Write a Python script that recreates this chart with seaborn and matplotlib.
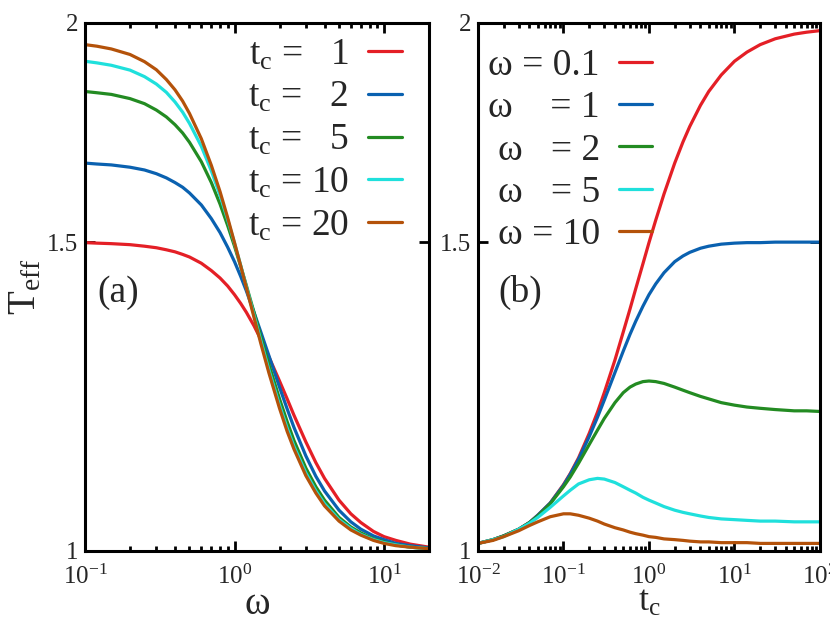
import matplotlib
matplotlib.use('Agg')
import matplotlib.pyplot as plt
import seaborn as sns
from matplotlib.ticker import FixedLocator, FixedFormatter, NullLocator, NullFormatter, LogLocator

# ---------------- panel (a): T_eff vs omega ----------------
omega = [0.1, 0.12, 0.15, 0.2, 0.25, 0.3, 0.35, 0.4, 0.45, 0.5, 0.6, 0.7, 0.8, 0.9, 1.0,
         1.1, 1.2, 1.35, 1.5, 1.7, 2, 2.25, 2.5, 3, 3.5, 4, 5, 6, 7, 8.5, 10, 12, 15, 20]
teff_tc1 = [1.499, 1.498, 1.497, 1.495, 1.492, 1.489, 1.485, 1.481, 1.476, 1.471, 1.459, 1.445,
            1.431, 1.416, 1.400, 1.384, 1.368, 1.344, 1.320, 1.290, 1.250, 1.221, 1.195, 1.154,
            1.123, 1.100, 1.069, 1.050, 1.038, 1.026, 1.019, 1.014, 1.009, 1.005]
teff_tc2 = [1.664, 1.662, 1.660, 1.655, 1.649, 1.641, 1.632, 1.622, 1.612, 1.600, 1.575, 1.547,
            1.519, 1.490, 1.462, 1.434, 1.407, 1.368, 1.333, 1.292, 1.240, 1.205, 1.176, 1.133,
            1.103, 1.082, 1.055, 1.039, 1.029, 1.020, 1.015, 1.010, 1.007, 1.004]
teff_tc5 = [1.828, 1.825, 1.821, 1.811, 1.799, 1.784, 1.768, 1.750, 1.731, 1.710, 1.667, 1.622,
            1.577, 1.533, 1.492, 1.453, 1.417, 1.368, 1.325, 1.277, 1.221, 1.185, 1.156, 1.115,
            1.088, 1.069, 1.045, 1.032, 1.024, 1.016, 1.012, 1.008, 1.005, 1.003]
teff_tc10 = [1.902, 1.898, 1.892, 1.880, 1.864, 1.846, 1.826, 1.803, 1.779, 1.753, 1.701, 1.647,
             1.595, 1.545, 1.498, 1.455, 1.415, 1.363, 1.318, 1.268, 1.211, 1.175, 1.147, 1.108,
             1.082, 1.064, 1.042, 1.030, 1.022, 1.015, 1.011, 1.008, 1.005, 1.003]
teff_tc20 = [1.944, 1.940, 1.933, 1.919, 1.901, 1.881, 1.857, 1.832, 1.805, 1.776, 1.718, 1.659,
             1.603, 1.549, 1.499, 1.454, 1.413, 1.359, 1.313, 1.263, 1.206, 1.170, 1.143, 1.104,
             1.079, 1.061, 1.040, 1.028, 1.021, 1.014, 1.010, 1.007, 1.005, 1.003]
labels_a = [r't$_\mathrm{c}$ =   1', r't$_\mathrm{c}$ =   2', r't$_\mathrm{c}$ =   5',
            r't$_\mathrm{c}$ = 10', r't$_\mathrm{c}$ = 20']

# ---------------- panel (b): T_eff vs t_c ----------------
tc = [0.01, 0.015, 0.02, 0.03, 0.04, 0.05, 0.07, 0.1, 0.12, 0.15, 0.2, 0.25, 0.3, 0.4, 0.5,
      0.6, 0.7, 0.85, 1, 1.2, 1.5, 2, 2.5, 3, 4, 5, 7, 10, 14, 20, 30, 50, 70, 100]
teff_w01 = [1.010, 1.015, 1.020, 1.029, 1.038, 1.048, 1.065, 1.091, 1.107, 1.130, 1.167, 1.200,
            1.231, 1.285, 1.333, 1.374, 1.411, 1.458, 1.499, 1.544, 1.598, 1.664, 1.711, 1.746,
            1.795, 1.828, 1.868, 1.902, 1.925, 1.944, 1.959, 1.971, 1.976, 1.980]
teff_w1 = [1.010, 1.015, 1.020, 1.029, 1.038, 1.048, 1.065, 1.090, 1.106, 1.128, 1.162, 1.192,
           1.219, 1.264, 1.300, 1.329, 1.352, 1.379, 1.400, 1.420, 1.441, 1.462, 1.473, 1.480,
           1.488, 1.492, 1.496, 1.498, 1.499, 1.499, 1.500, 1.500, 1.500, 1.500]
teff_w2 = [1.010, 1.015, 1.020, 1.029, 1.038, 1.047, 1.064, 1.088, 1.102, 1.122, 1.150, 1.172,
           1.190, 1.215, 1.231, 1.240, 1.245, 1.249, 1.250, 1.249, 1.246, 1.240, 1.235, 1.231,
           1.225, 1.221, 1.215, 1.211, 1.208, 1.206, 1.204, 1.202, 1.202, 1.201]
teff_w5 = [1.010, 1.015, 1.019, 1.029, 1.037, 1.045, 1.059, 1.075, 1.083, 1.092, 1.098, 1.100,
           1.099, 1.094, 1.088, 1.083, 1.079, 1.073, 1.069, 1.065, 1.060, 1.055, 1.052, 1.050,
           1.047, 1.045, 1.043, 1.042, 1.041, 1.040, 1.040, 1.039, 1.039, 1.039]
teff_w10 = [1.010, 1.014, 1.019, 1.027, 1.034, 1.039, 1.046, 1.050, 1.050, 1.048, 1.044, 1.040,
            1.036, 1.031, 1.028, 1.025, 1.023, 1.021, 1.019, 1.018, 1.016, 1.015, 1.014, 1.013,
            1.012, 1.012, 1.011, 1.011, 1.011, 1.010, 1.010, 1.010, 1.010, 1.010]
labels_b = ['ω = 0.1', 'ω    = 1', 'ω   = 2', 'ω   = 5', 'ω = 10']

colors = ['#e41f26', '#0a61b0', '#238b22', '#1fe0dc', '#b4520a']

sns.set_style('ticks')
plt.rcParams['font.family'] = 'serif'
plt.rcParams['font.serif'] = ['Liberation Serif', 'Times New Roman', 'DejaVu Serif']
plt.rcParams['mathtext.fontset'] = 'custom'
plt.rcParams['mathtext.rm'] = 'Liberation Serif'
plt.rcParams['mathtext.it'] = 'Liberation Serif:italic'
plt.rcParams['mathtext.bf'] = 'Liberation Serif:bold'

fig = plt.figure(figsize=(8.3, 6.23), dpi=100)
ax1 = fig.add_axes([0.1024, 0.1156, 0.4145, 0.8475])
ax2 = fig.add_axes([0.5759, 0.1156, 0.412, 0.8475])

for vals, c, lab in zip([teff_tc1, teff_tc2, teff_tc5, teff_tc10, teff_tc20], colors, labels_a):
    sns.lineplot(x=omega, y=vals, color=c, label=lab, linewidth=2.3, ax=ax1)

for vals, c, lab in zip([teff_w01, teff_w1, teff_w2, teff_w5, teff_w10], colors, labels_b):
    sns.lineplot(x=tc, y=vals, color=c, label=lab, linewidth=2.3, ax=ax2)

for ax in [ax1, ax2]:
    ax.set_xscale('log')
    ax.set_yscale('log')
    ax.set_ylim(1, 2)
    ax.yaxis.set_major_locator(FixedLocator([1, 1.5, 2]))
    ax.yaxis.set_major_formatter(FixedFormatter(['1', '1.5', '2']))
    ax.yaxis.set_minor_locator(NullLocator())
    ax.xaxis.set_major_locator(LogLocator(base=10))
    ax.xaxis.set_minor_locator(LogLocator(base=10, subs=range(2, 10)))
    ax.xaxis.set_minor_formatter(NullFormatter())
    ax.tick_params(which='both', direction='in', top=True, right=True,
                   width=2, labelsize=18, color='black')
    ax.tick_params(axis='y', pad=5)
    ax.tick_params(axis='x', pad=10)
    ax.tick_params(which='major', length=7)
    ax.tick_params(which='minor', length=3.5)
    for s in ax.spines.values():
        s.set_linewidth(2.2)
        s.set_color('black')

ax1.set_xlim(0.1, 20)
ax2.set_xlim(0.01, 100)

ax1.set_xlabel('ω', fontsize=28, labelpad=-2)
ax2.set_xlabel(r't$_\mathrm{c}$', fontsize=26, labelpad=-2)
ax1.set_ylabel(r'T$_\mathrm{eff}$', fontsize=28, labelpad=2)
ax2.set_ylabel('')

ax1.text(0.096, 0.49, '(a)', transform=ax1.transAxes, fontsize=27, ha='center', va='center')
ax2.text(0.123, 0.49, '(b)', transform=ax2.transAxes, fontsize=27, ha='center', va='center')

ax1.legend(loc='upper right', bbox_to_anchor=(0.92, 0.972), frameon=False, markerfirst=False,
           fontsize=27, handlelength=0.9, handletextpad=0.5, labelspacing=0.22,
           borderpad=0, borderaxespad=0)
ax2.legend(loc='upper right', bbox_to_anchor=(0.51, 0.952), frameon=False, markerfirst=False,
           fontsize=27, handlelength=0.9, handletextpad=0.5, labelspacing=0.21,
           borderpad=0, borderaxespad=0)

plt.savefig('out.png', dpi=100)
